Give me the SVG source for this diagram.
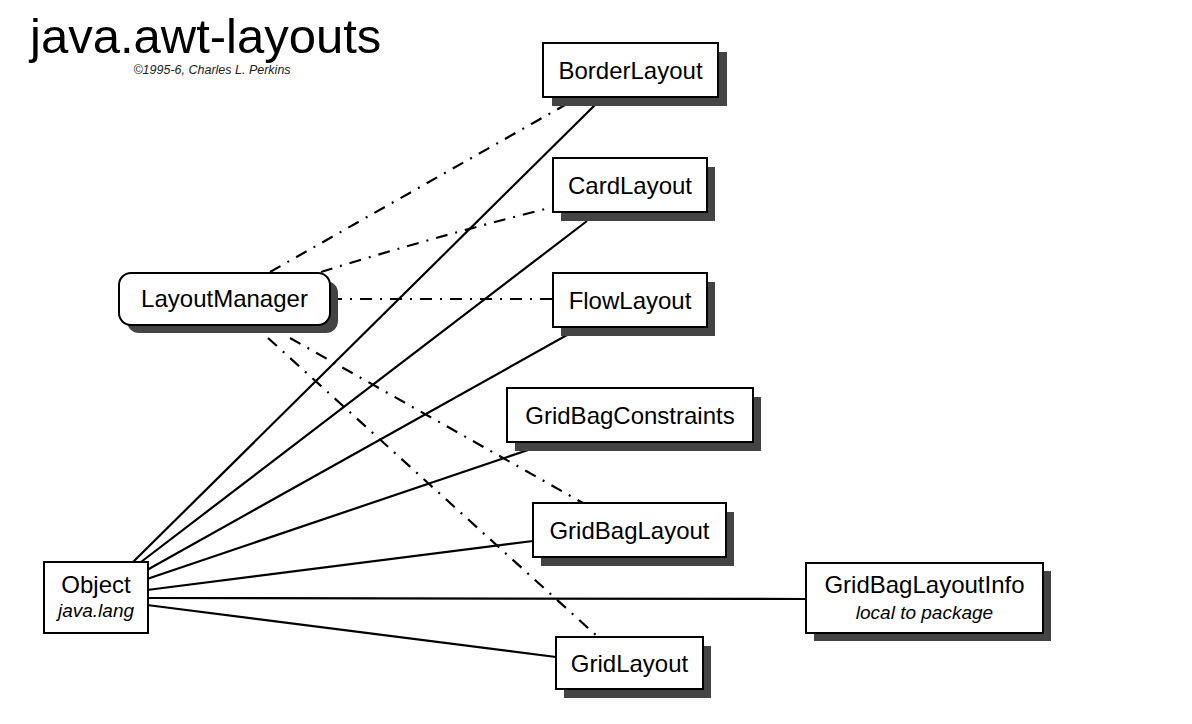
<svg xmlns="http://www.w3.org/2000/svg" width="1192" height="724" viewBox="0 0 1192 724">
<style>
.box{fill:#fff;stroke:#000;stroke-width:2}
.sh{fill:#444}
.lbl{font-family:"Liberation Sans",Arial,sans-serif;font-size:24px;fill:#000;text-anchor:middle}
.sub{font-family:"Liberation Sans",Arial,sans-serif;font-size:19px;font-style:italic;fill:#000;text-anchor:middle}
.solid{stroke:#000;stroke-width:2.2;fill:none}
.dd{stroke:#000;stroke-width:2.2;fill:none;stroke-dasharray:12 8 2 8}
</style>
<rect width="1192" height="724" fill="#fff"/>
<text x="30" y="53" font-family="'Liberation Sans',Arial,sans-serif" font-size="49">java.awt-layouts</text>
<text x="212" y="74" font-family="'Liberation Sans',Arial,sans-serif" font-size="12.5" font-style="italic" text-anchor="middle" fill="#222">©1995-6, Charles L. Perkins</text>
<g id="connectors">
<line class="solid" x1="133" y1="562" x2="596" y2="104"/>
<line class="solid" x1="141" y1="562" x2="587" y2="221"/>
<line class="solid" x1="147" y1="570" x2="567" y2="335"/>
<line class="solid" x1="147" y1="579" x2="528" y2="450"/>
<line class="solid" x1="147" y1="590" x2="533" y2="541"/>
<line class="solid" x1="147" y1="598" x2="806" y2="599"/>
<line class="solid" x1="147" y1="605" x2="556" y2="657"/>
<line class="dd" x1="270" y1="272" x2="565" y2="105"/>
<path class="dd" d="M321,272 Q430,238 553,207"/>
<line class="dd" x1="330" y1="299" x2="553" y2="299"/>
<line class="dd" x1="290" y1="338" x2="583" y2="503"/>
<line class="dd" x1="268" y1="338" x2="598" y2="637"/>
</g>
<g id="LayoutManager">
<rect class="sh" x="127" y="281" width="211" height="52" rx="12"/>
<rect class="box" x="119" y="273" width="211" height="52" rx="12"/>
<text class="lbl" x="224.5" y="307">LayoutManager</text>
</g>
<g id="BorderLayout">
<rect class="sh" x="552" y="52" width="175" height="54"/>
<rect class="box" x="543" y="43" width="175" height="54"/>
<text class="lbl" x="630.5" y="79">BorderLayout</text>
</g>
<g id="CardLayout">
<rect class="sh" x="561" y="167" width="154" height="54"/>
<rect class="box" x="553" y="158" width="154" height="54"/>
<text class="lbl" x="630" y="194">CardLayout</text>
</g>
<g id="FlowLayout">
<rect class="sh" x="561" y="282" width="154" height="54"/>
<rect class="box" x="553" y="273" width="154" height="54"/>
<text class="lbl" x="630" y="309">FlowLayout</text>
</g>
<g id="GridBagConstraints">
<rect class="sh" x="515" y="397" width="246" height="54"/>
<rect class="box" x="507" y="388" width="246" height="54"/>
<text class="lbl" x="630" y="424">GridBagConstraints</text>
</g>
<g id="GridBagLayout">
<rect class="sh" x="541" y="512" width="193" height="54"/>
<rect class="box" x="533" y="503" width="193" height="54"/>
<text class="lbl" x="629.5" y="539">GridBagLayout</text>
</g>
<g id="GridLayout">
<rect class="sh" x="564" y="646" width="147" height="52"/>
<rect class="box" x="556" y="637" width="147" height="52"/>
<text class="lbl" x="629.5" y="672">GridLayout</text>
</g>
<g id="GridBagLayoutInfo">
<rect class="sh" x="814" y="571" width="237" height="70"/>
<rect class="box" x="806" y="563" width="237" height="70"/>
<text class="lbl" x="924.5" y="593">GridBagLayoutInfo</text>
<text class="sub" x="924.5" y="619">local to package</text>
</g>
<g id="Object">
<rect class="box" x="44" y="562" width="104" height="71"/>
<text class="lbl" x="96" y="593">Object</text>
<text class="sub" x="96" y="617">java.lang</text>
</g>
</svg>
